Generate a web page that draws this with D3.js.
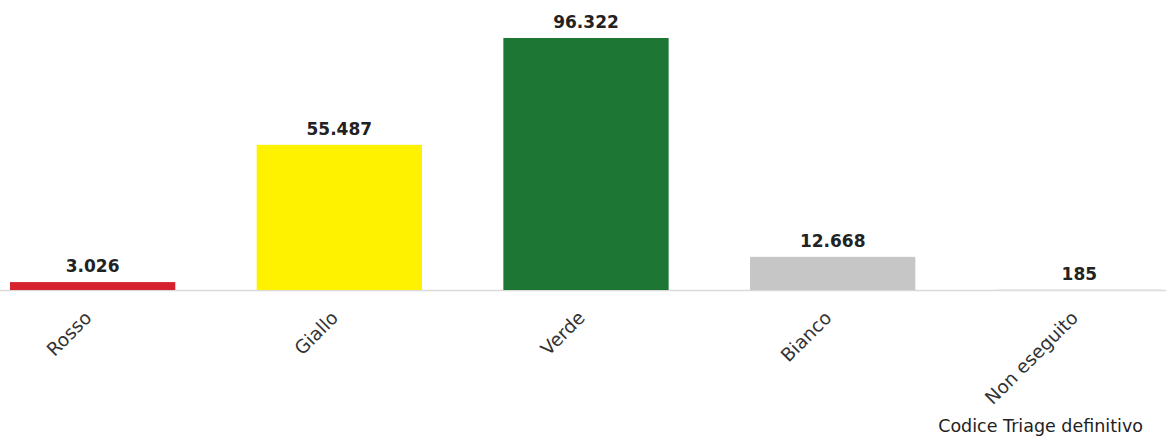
<!DOCTYPE html>
<html>
<head>
<meta charset="utf-8">
<script src="https://cdn.jsdelivr.net/npm/d3@7"></script>
<style>
  body { margin: 0; background: #fff; }
  svg { display: block; font-family: "DejaVu Sans", Verdana, sans-serif; }
  .value-label { font-size: 17px; font-weight: bold; fill: #222; }
  .cat-label { font-size: 18.5px; fill: #333; }
  .axis-title { font-size: 17.5px; fill: #222; }
</style>
</head>
<body>
<div id="chart"></div>
<script>
// Triage codes and counts
const categories = ["Rosso", "Giallo", "Verde", "Bianco", "Non eseguito"];
const values = [3026, 55487, 96322, 12668, 185];
const valueLabels = ["3.026", "55.487", "96.322", "12.668", "185"];
const barColors = ["#d6222e", "#fff200", "#1d7633", "#c6c6c6", "#dedede"];
const axisTitle = "Codice Triage definitivo";

const width = 1171, height = 441;

const svg = d3.select("#chart")
  .append("svg")
  .attr("width", width)
  .attr("height", height);

const x = d3.scaleBand()
  .domain(categories)
  .range([10, 1162])
  .paddingInner(0.33)
  .paddingOuter(0);

const y = d3.scaleLinear()
  .domain([0, 96322])
  .range([290, 38]);

// baseline
svg.append("line")
  .attr("x1", 0)
  .attr("x2", 1166)
  .attr("y1", y(0) + 0.5)
  .attr("y2", y(0) + 0.5)
  .attr("stroke", "#d9d9d9")
  .attr("stroke-width", 1.5);

// bars
svg.selectAll(".bar")
  .data(categories)
  .join("rect")
  .attr("class", "bar")
  .attr("x", d => x(d))
  .attr("width", x.bandwidth())
  .attr("y", (d, i) => y(values[i]))
  .attr("height", (d, i) => Math.max(y(0) - y(values[i]), 1.5))
  .attr("fill", (d, i) => barColors[i]);

// value labels
svg.selectAll(".value-label")
  .data(categories)
  .join("text")
  .attr("class", "value-label")
  .attr("x", d => x(d) + x.bandwidth() / 2)
  .attr("y", (d, i) => y(values[i]) - 10)
  .attr("text-anchor", "middle")
  .text((d, i) => valueLabels[i]);

// category labels, rotated
svg.selectAll(".cat-label")
  .data(categories)
  .join("text")
  .attr("class", "cat-label")
  .attr("text-anchor", "end")
  .attr("transform", d => `translate(${x(d) + x.bandwidth() / 2},${y(0) + 29}) rotate(-45)`)
  .text(d => d);

svg.append("text")
  .attr("class", "axis-title")
  .attr("x", 1143)
  .attr("y", 432)
  .attr("text-anchor", "end")
  .text(axisTitle);
</script>
</body>
</html>
